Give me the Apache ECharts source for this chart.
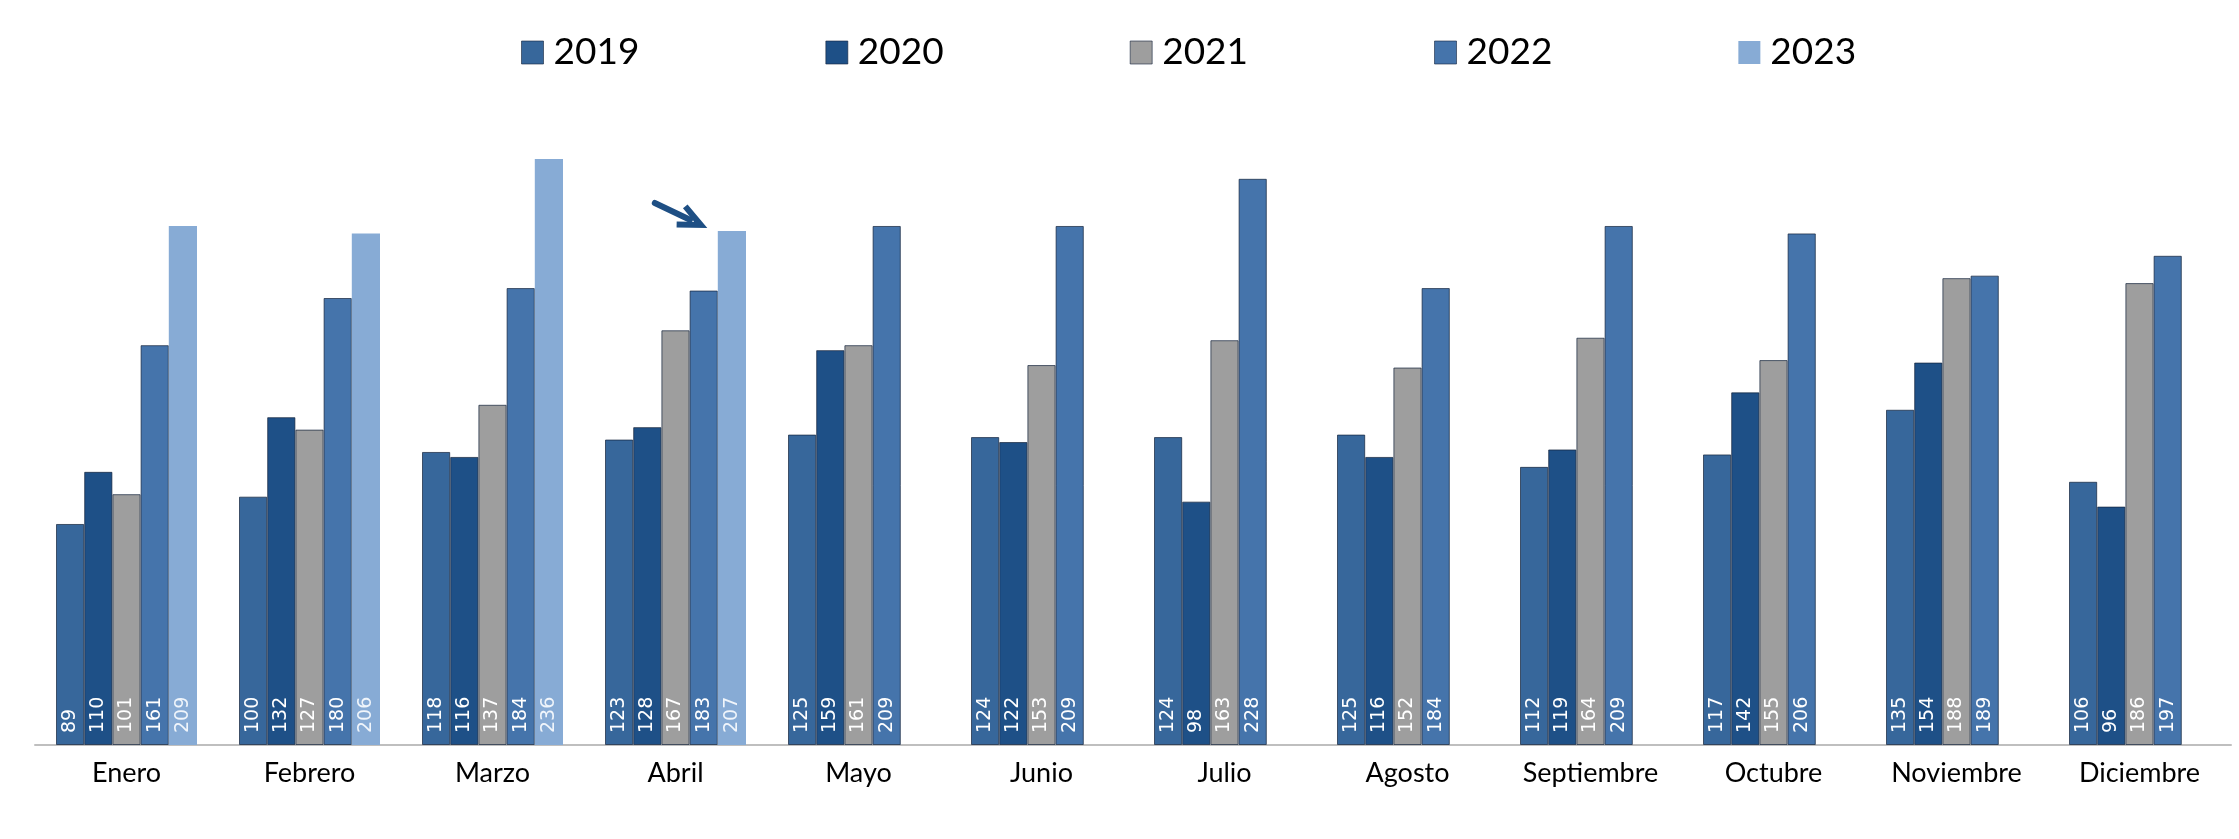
<!DOCTYPE html>
<html>
<head>
<meta charset="utf-8">
<script src="https://cdn.jsdelivr.net/npm/echarts@6/dist/echarts.min.js"></script>
<style>html,body{margin:0;padding:0;background:#fff}#c{width:2239px;height:839px}</style>
</head>
<body>
<div id="c"></div>
<script>
const months = ['Enero','Febrero','Marzo','Abril','Mayo','Junio','Julio','Agosto','Septiembre','Octubre','Noviembre','Diciembre'];
const years = ['2019','2020','2021','2022','2023'];
const v2019 = [89,100,118,123,125,124,124,125,112,117,135,106];
const v2020 = [110,132,116,128,159,122,98,116,119,142,154,96];
const v2021 = [101,127,137,167,161,153,163,152,164,155,188,186];
const v2022 = [161,180,184,183,209,209,228,184,209,206,189,197];
const v2023 = [209,206,236,207,null,null,null,null,null,null,null,null];
const values = [v2019,v2020,v2021,v2022,v2023];
const colors = ['#37679B','#1E5087','#9E9E9E','#4574AB','#87ABD5'];

const chart = echarts.init(document.getElementById('c'), null, {renderer:'canvas'});
const series = years.map((y,i)=>({
  name: y,
  type: 'bar',
  data: values[i],
  barWidth: 28.2,
  barGap: '0%',
  itemStyle: {color: colors[i], borderColor: i===4 ? colors[i] : 'rgba(20,35,60,0.7)', borderWidth: i===4 ? 0 : 1},
  label: {
    show: true,
    position: 'insideBottom',
    rotate: 90,
    align: 'left',
    verticalAlign: 'middle',
    distance: 12,
    color: i===4 ? '#F0F5FB' : '#FFFFFF',
    fontFamily: 'DejaVu Sans',
    fontSize: 19
  },
  emphasis: {disabled: true}
}));

chart.setOption({
  animation: false,
  backgroundColor: '#ffffff',
  legend: {
    data: years.map((y,i)=>({name:y, itemStyle:{color:colors[i], borderColor: i===4 ? colors[i] : 'rgba(20,35,60,0.6)', borderWidth: i===4 ? 0 : 1}})),
    left: 516,
    top: 29,
    itemWidth: 22,
    itemHeight: 23,
    itemGap: 186,
    icon: 'rect',
    textStyle: {fontFamily: 'Lato', fontSize: 37, color: '#000', padding: [0,0,0,5], width: 90}
  },
  grid: {left: 35, right: 8, top: 0, bottom: 94, containLabel: false},
  xAxis: {
    type: 'category',
    data: months,
    axisLine: {show: true, lineStyle: {color: '#BFBFBF', width: 2}},
    axisTick: {show: false},
    axisLabel: {fontFamily: 'Lato', fontSize: 27, color: '#000', margin: 15, interval: 0}
  },
  yAxis: {
    type: 'value',
    min: 0,
    max: 300,
    show: false,
    splitLine: {show: false}
  },
  series: series
});

// Arrow annotation pointing at the Abril 2023 bar
try {
  const data = chart.getModel().getSeriesByIndex(4).getData();
  const idx = months.indexOf('Abril');
  const r = data.getItemLayout(idx);
  const top = Math.min(r.y, r.y + r.height);
  const tip = [r.x - 17, top - 6];
  const tail = [tip[0] - 46, tip[1] - 22];
  const dx = tip[0]-tail[0], dy = tip[1]-tail[1];
  const L = Math.sqrt(dx*dx+dy*dy);
  const ux = dx/L, uy = dy/L;
  const hl = 22, hw = 10;
  const base = [tip[0]-ux*hl, tip[1]-uy*hl];
  chart.setOption({
    graphic: [
      {type:'polyline', shape:{points:[tail, [tip[0]-ux*12, tip[1]-uy*12]]}, style:{stroke:'#1E4F84', lineWidth:6, lineCap:'round'}, silent:true},
      {type:'polyline', shape:{points:[[base[0]-uy*hw, base[1]+ux*hw], tip, [base[0]+uy*hw, base[1]-ux*hw]]}, style:{stroke:'#1E4F84', lineWidth:6, fill:null, lineJoin:'miter'}, silent:true}
    ]
  });
} catch(e) { console.log(e); }
</script>
</body>
</html>
